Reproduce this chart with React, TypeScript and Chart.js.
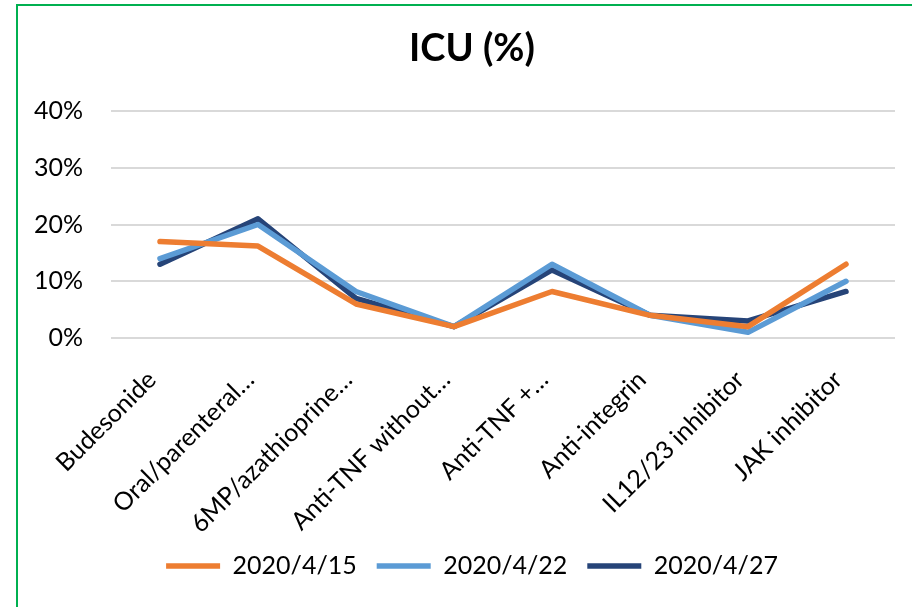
import React, { useEffect, useRef } from "react";
import { Chart, registerables } from "chart.js";

Chart.register(...registerables);

const categories = [
  "Budesonide",
  "Oral/parenteral…",
  "6MP/azathioprine…",
  "Anti-TNF without…",
  "Anti-TNF +…",
  "Anti-integrin",
  "IL12/23 inhibitor",
  "JAK inhibitor",
];
const series0415 = [17, 16.2, 6, 2, 8.2, 4, 2, 13];
const series0422 = [14, 20, 8.2, 2, 13, 4, 1, 10];
const series0427 = [13, 21, 7, 2, 12, 4, 3, 8.2];
const seriesLabels = ["2020/4/15", "2020/4/22", "2020/4/27"];
const yMin = 0;
const yMax = 40;
const yStep = 10;

const FONT = "Lato, 'Open Sans', sans-serif";

export default function App() {
  const ref = useRef<HTMLCanvasElement | null>(null);
  useEffect(() => {
    if (!ref.current) return;
    const colors = ["#ED7D31", "#5B9BD5", "#264478"];
    const all = [series0415, series0422, series0427];
    const chart = new Chart(ref.current, {
      type: "line",
      data: {
        labels: categories,
        datasets: all.map((d, i) => ({
          label: seriesLabels[i],
          data: d,
          borderColor: colors[i],
          backgroundColor: colors[i],
          borderWidth: 5.5,
          borderCapStyle: "round" as const,
          borderJoinStyle: "round" as const,
          pointRadius: 0,
          tension: 0,
          fill: false,
        })),
      },
      options: {
        animation: false,
        responsive: false,
        maintainAspectRatio: false,
        layout: { padding: { left: 49, right: 17, top: 0, bottom: 18.5 } },
        plugins: {
          title: {
            display: true,
            text: "ICU (%)",
            color: "#000",
            font: { family: FONT, size: 38, weight: "bold" },
            padding: { top: 26, bottom: 39.4 },
          },
          legend: {
            position: "bottom",
            labels: {
              usePointStyle: true,
              pointStyle: "line",
              pointStyleWidth: 54,
              padding: 20,
              color: "#000",
              font: { family: FONT, size: 25 },
            },
          },
          tooltip: { enabled: false },
        },
        scales: {
          x: {
            offset: true,
            grid: { display: false, drawTicks: false },
            border: { display: false },
            ticks: {
              autoSkip: false,
              maxRotation: 45,
              minRotation: 45,
              padding: 27,
              labelOffset: -8,
              color: "#000",
              font: { family: FONT, size: 25 },
            },
            afterFit: (s: any) => {
              s.height = 195.5;
              s._computeLabelArea = () => undefined;
            },
          },
          y: {
            min: yMin,
            max: yMax,
            grid: { color: "#D9D9D9", lineWidth: 2, drawTicks: false },
            border: { display: false },
            ticks: {
              stepSize: yStep,
              padding: 28,
              color: "#000",
              font: { family: FONT, size: 25 },
              callback: (v: any) => Number(v) + "%",
            },
            afterFit: (s: any) => {
              s.width = 62;
              s._computeLabelArea = () => undefined;
            },
          },
        },
      },
    });
    return () => chart.destroy();
  }, []);
  return (
    <div
      style={{
        position: "fixed",
        left: 0,
        top: 0,
        width: 912,
        height: 607,
        overflow: "hidden",
        background: "#fff",
      }}
    >
      <div
        style={{
          position: "absolute",
          left: 16,
          top: 4,
          width: 1000,
          height: 800,
          border: "2px solid #00B050",
          boxSizing: "border-box",
        }}
      />
      <canvas
        ref={ref}
        width={912}
        height={607}
        style={{ position: "absolute", left: 0, top: 0, width: 912, height: 607 }}
      />
    </div>
  );
}
